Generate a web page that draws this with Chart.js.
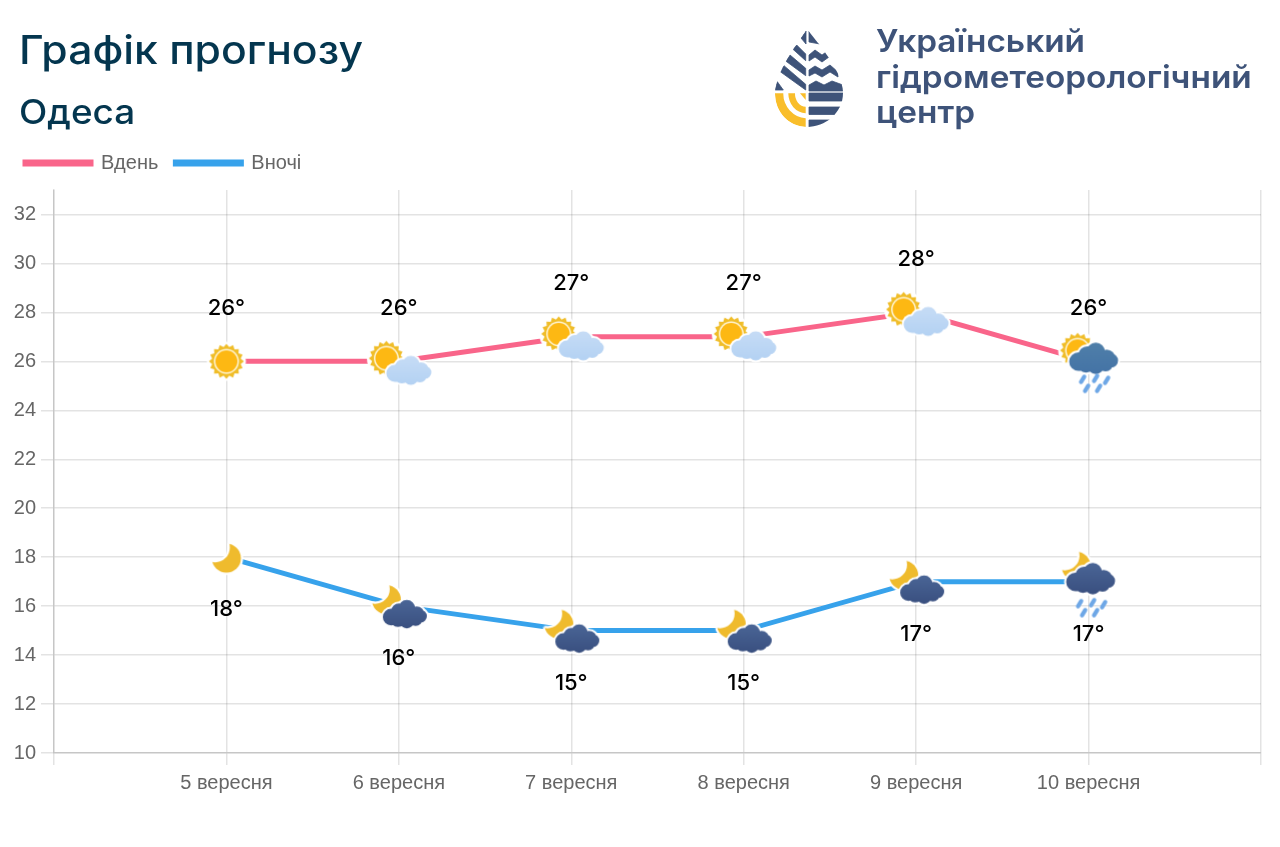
<!DOCTYPE html>
<html lang="uk"><head><meta charset="utf-8">
<script src="https://cdn.jsdelivr.net/npm/chart.js@4"></script>
<style>
html,body{margin:0;padding:0;background:#fff;width:1280px;height:847px;overflow:hidden}
#c{position:absolute;left:0;top:0;width:1280px;height:847px}
.t{position:absolute;white-space:nowrap;font-family:Inter,sans-serif;line-height:1;transform-origin:0 50%}
#h1{left:19px;top:30px;font-size:39px;font-weight:500;color:#04364f;transform:scaleX(1.095)}
#h2{left:19px;top:95px;font-size:34px;font-weight:500;color:#04364f;transform:scaleX(1.085)}
.lg{left:876px;font-size:31.5px;font-weight:600;color:#3e5379;transform:scaleX(1.06)}
svg{position:absolute;left:0;top:0}
</style></head><body>
<canvas id="c" width="1280" height="847"></canvas>
<div class="t" id="h1">Графік прогнозу</div>
<div class="t" id="h2">Одеса</div>
<div class="t lg" style="top:25px">Український</div>
<div class="t lg" style="top:61px">гідрометеорологічний</div>
<div class="t lg" style="top:96px">центр</div>
<svg width="1280" height="140">
<defs><clipPath id="drop"><path d="M807 29C800 40 776 70 775 93C775 113 790 127 807 127C825 127 843 113 843 93C843 70 815 40 807 29Z"/></clipPath></defs>
<g clip-path="url(#drop)">
<g fill="#3e5379" stroke="#3e5379" stroke-width="0.8" stroke-linejoin="round">
<path d="M801 38L806 31V44Z"/>
<path d="M809 31L820 44L809 42Z"/>
<path d="M796.7 45L805.700 54V60.700L792.700 49Z"/>
<path d="M790 55L805.700 68.300V75.700L785.700 61Z"/>
<path d="M784 65.700L805.700 84.300V90L779.300 71Z"/>
<path d="M777.300 81.700L783.300 90H775Z"/>
<path d="M809 55L815 50L822 55L829 50L835 59V61L829 57L822 62L815 57L809 61Z"/>
<path d="M809 70L815 66L822 70L830 65L838 72V77L830 72L822 77L815 73L809 76Z"/>
<path d="M809 85L816 81L824 85L832 81L843 85V91H809Z"/>
<rect x="809" y="93" width="35" height="8"/>
<rect x="809" y="107" width="35" height="7.500"/>
<rect x="809" y="120" width="30" height="8"/>
</g>
<g fill="#f9be2b">
<path d="M775 93.300H783.300V94A24.500 24.500 0 0 0 805.700 118.300V127A32 32 0 0 1 775 95Z"/>
<path d="M788.300 93.300H795A11 13 0 0 0 805.700 106.700V113.300A18 20 0 0 1 788.300 93.300Z"/>
<path d="M800 93.300H805.700V100Z"/>
</g>
</g>
</svg>
<script>
const categories = ['', '5 вересня', '6 вересня', '7 вересня', '8 вересня', '9 вересня', '10 вересня', ''];
const dayValues = [null, 26, 26, 27, 27, 28, 26, null];
const nightValues = [null, 18, 16, 15, 15, 17, 17, null];
const dayIconNames = [null, 'sun', 'sunCloud', 'sunCloud', 'sunCloud', 'sunCloud', 'sunRain', null];
const nightIconNames = [null, 'moon', 'moonCloud', 'moonCloud', 'moonCloud', 'moonCloud', 'moonRain', null];
const seriesNames = ['Вдень', 'Вночі'];
const yMin = 10, yMax = 33, yStep = 2;

const S = 140, C = S / 2;
function disc(g, x, y, r) { g.beginPath(); g.arc(x, y, r, 0, 7); g.fill(); }
function sun(g, x, y) {
  g.fillStyle = '#fff'; disc(g, x, y, 19.5);
  g.fillStyle = '#f0bd28';
  g.beginPath();
  const n = 16;
  for (let i = 0; i < n * 2; i++) {
    const a = i * Math.PI / n, r = i % 2 ? 14.5 : 17.5;
    g.lineTo(x + r * Math.cos(a), y + r * Math.sin(a));
  }
  g.closePath(); g.fill();
  g.fillStyle = '#fff6d8'; disc(g, x, y, 12.5);
  g.fillStyle = '#fdb813'; disc(g, x, y, 11);
}
function moon(g, x, y) {
  const m = document.createElement('canvas'); m.width = m.height = S;
  const k = m.getContext('2d');
  k.fillStyle = '#efbb2d';
  disc(k, x, y + 1, 14.5);
  k.globalCompositeOperation = 'destination-out';
  disc(k, x - 11.4, y - 9.6, 14.8);
  const w = document.createElement('canvas'); w.width = w.height = S;
  const q = w.getContext('2d');
  q.drawImage(m, 0, 0);
  q.globalCompositeOperation = 'source-in';
  q.fillStyle = '#fff'; q.fillRect(0, 0, S, S);
  for (let i = 0; i < 12; i++) {
    const a = i * Math.PI / 6;
    g.drawImage(w, 2 * Math.cos(a), 2 * Math.sin(a));
  }
  g.drawImage(m, 0, 0);
}
function cloud(g, x, y, w, c1, c2) {
  const s = w / 46;
  const lobes = [[-14, 3, 8.5], [-6, -3, 8], [2, -6, 8.5], [12, 0, 8], [16, 2, 6.5], [-7, 5, 8], [2, 7, 7.5], [11, 5, 7], [0, 1, 9]];
  g.fillStyle = '#fff';
  lobes.forEach(l => disc(g, x + l[0] * s, y + l[1] * s, l[2] * s + 2));
  const gr = g.createLinearGradient(0, y - 14 * s, 0, y + 14 * s);
  gr.addColorStop(0, c1); gr.addColorStop(1, c2);
  g.fillStyle = gr;
  g.beginPath();
  lobes.forEach(l => { g.moveTo(x + (l[0] + l[2]) * s, y + l[1] * s); g.arc(x + l[0] * s, y + l[1] * s, l[2] * s, 0, 7); });
  g.fill();
}
function drops(g, x, y) {
  g.strokeStyle = '#6ea7e6'; g.lineWidth = 4.2; g.lineCap = 'round';
  [[-12, 0], [1, -1], [12, 1], [-8, 9], [4, 9]].forEach(d => {
    g.beginPath(); g.moveTo(x + d[0] + 1.6, y + d[1] - 2.6); g.lineTo(x + d[0] - 1.6, y + d[1] + 2.6); g.stroke();
  });
}
function makeIcon(name) {
  const cv = document.createElement('canvas'); cv.width = cv.height = S;
  const g = cv.getContext('2d');
  if (name === 'sun') sun(g, C, C);
  if (name === 'moon') moon(g, C, C);
  if (name === 'sunCloud') { sun(g, C - 12.5, C - 3); cloud(g, C + 10, C + 9, 46, '#c6dcf6', '#b4d2f3'); }
  if (name === 'sunRain') { sun(g, C - 11, C - 11); cloud(g, C + 5, C - 3, 50, '#4f7fa9', '#4473a6'); drops(g, C + 6, C + 18); }
  if (name === 'moonCloud') { moon(g, C - 12.5, C - 7.5); cloud(g, C + 6, C + 8, 45, '#4a6596', '#3a5080'); }
  if (name === 'moonRain') { moon(g, C - 12.5, C - 16.5); cloud(g, C + 2, C - 3, 50, '#4a6596', '#3a5080'); drops(g, C + 3, C + 22); }
  return cv;
}
const icon = n => n ? makeIcon(n) : false;

const valueLabels = {
  id: 'valueLabels',
  afterDatasetsDraw(chart) {
    const g = chart.ctx, y = chart.scales.y, x = chart.scales.x;
    g.save();
    g.font = '500 22px Inter, sans-serif';
    g.fillStyle = '#000'; g.textAlign = 'center'; g.textBaseline = 'middle';
    chart.data.datasets.forEach((ds, i) => {
      ds.data.forEach((v, k) => {
        if (v === null) return;
        g.fillText(v + '°', x.getPixelForValue(k), y.getPixelForValue(v) + (i === 0 ? -53 : 52.5));
      });
    });
    g.restore();
  }
};
const legendHeight = {
  id: 'legendHeight',
  beforeInit(chart) {
    const fit = chart.legend.fit;
    chart.legend.fit = function () { fit.call(this); this.height = 54; };
  }
};

const tickFont = { family: '"Liberation Sans", Arial, sans-serif', size: 20 };
new Chart(document.getElementById('c'), {
  type: 'line',
  data: {
    labels: categories,
    datasets: [
      { label: seriesNames[0], data: dayValues, borderColor: '#f9658a', backgroundColor: '#f9658a', borderWidth: 5,
        tension: 0, pointStyle: dayIconNames.map(icon), pointRadius: 10, clip: false },
      { label: seriesNames[1], data: nightValues, borderColor: '#37a2eb', backgroundColor: '#37a2eb', borderWidth: 5,
        tension: 0, pointStyle: nightIconNames.map(icon), pointRadius: 10, clip: false }
    ]
  },
  options: {
    responsive: false, animation: false, devicePixelRatio: 1,
    layout: { padding: { left: 8, right: 19, top: 136, bottom: 0 } },
    plugins: {
      tooltip: { enabled: false },
      legend: {
        align: 'start',
        labels: { boxWidth: 66, boxHeight: 2, padding: 17, color: '#666', font: tickFont }
      }
    },
    scales: {
      x: {
        grid: { color: 'rgba(0,0,0,0.11)', lineWidth: 1.5, tickLength: 12 },
        border: { color: 'rgba(0,0,0,0.13)', width: 1.5 },
        ticks: { color: '#666', padding: 6, maxRotation: 0, autoSkip: false, font: tickFont },
        afterFit(s) { s.height = 94; }
      },
      y: {
        min: yMin, max: yMax,
        grid: { color: 'rgba(0,0,0,0.11)', lineWidth: 1.5, tickLength: 13 },
        border: { color: 'rgba(0,0,0,0.13)', width: 1.5 },
        ticks: { stepSize: yStep, color: '#666', padding: 5, font: tickFont },
        afterBuildTicks(s) { s.ticks = s.ticks.filter(t => (t.value - yMin) % yStep === 0); },
        afterFit(s) { s.width = 46; }
      }
    }
  },
  plugins: [legendHeight, valueLabels]
});
</script>
</body></html>
